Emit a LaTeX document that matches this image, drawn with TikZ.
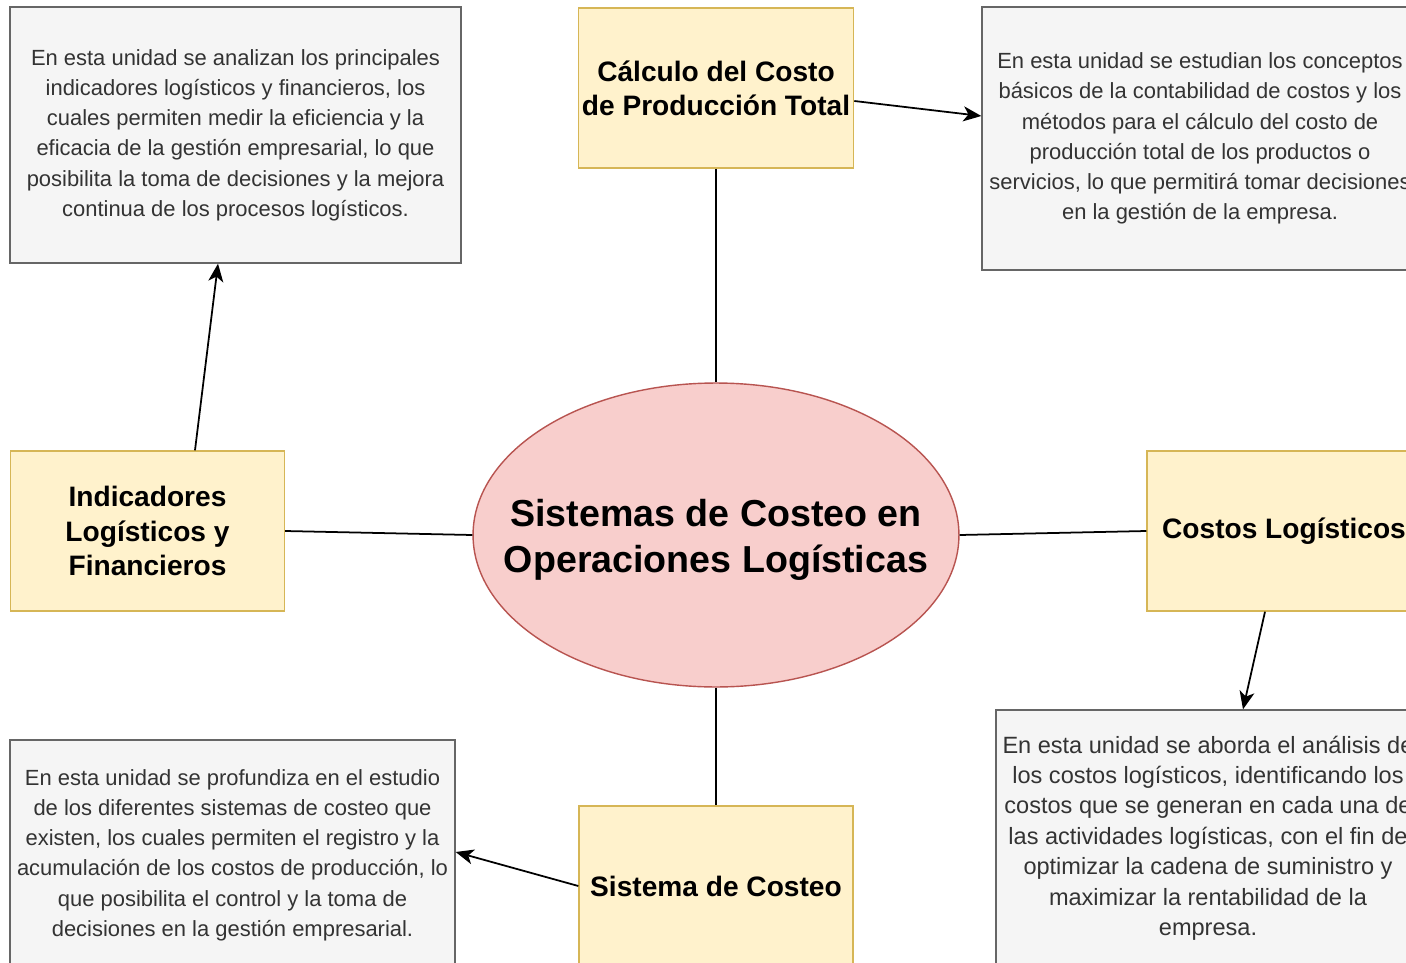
\documentclass[tikz,border=0pt]{standalone}
\usepackage{fontspec}
\setmainfont{Liberation Sans}
\usepackage{xcolor}
\usetikzlibrary{arrows.meta}
\usetikzlibrary{positioning,shapes.geometric}
\definecolor{topicfill}{HTML}{FFF2CC}
\definecolor{topicdraw}{HTML}{D6B656}
\definecolor{notefill}{HTML}{F5F5F5}
\definecolor{notedraw}{HTML}{666666}
\definecolor{notetext}{HTML}{333333}
\definecolor{mainfill}{HTML}{F8CECC}
\definecolor{maindraw}{HTML}{B85450}
\tikzset{
    topic/.style={
        draw=topicdraw,
        fill=topicfill,
        line width=0.8pt,
        minimum width=5.48cm,
        minimum height=3.2cm,
        inner sep=2pt,
        align=center,
        font=\fontsize{16}{19.4}\selectfont\bfseries
    },
    note/.style={
        draw=notedraw,
        fill=notefill,
        line width=0.8pt,
        inner sep=2pt,
        align=center,
        text=notetext,
        font=\fontsize{12.5}{17.2}\selectfont
    },
    link/.style={
        draw,
        line width=1pt
    },
    pointer/.style={
        draw,
        line width=1pt,
        -{Stealth[length=3.6mm, width=3mm, inset=1mm]}
    }
}

\begin{document}
\begin{tikzpicture}[x=0.02cm, y=-0.02cm]
  \useasboundingbox (0,0) rectangle (1406,963);
  \fill[white] (0,0) rectangle (1406,963);
  \clip (0,0) rectangle (1406,963);

  % Central topic
  \node[ellipse, draw=maindraw, fill=mainfill, line width=0.8pt,
        minimum width=9.72cm, minimum height=6.08cm, inner sep=0pt,
        label={[align=center, yshift=-0.1cm, font=\fontsize{21.4}{26.2}\selectfont\bfseries]center:Sistemas de Costeo en\\Operaciones Log\'isticas}]
        (main) at (716,535) {};

  % Unit topics
  \node[topic] (calc) at (716,88) {C\'alculo del Costo\\de Producci\'on Total};
  \node[topic] (indic) at (147.5,531) {Indicadores\\Log\'isticos y\\Financieros};
  \node[topic] (costos) at (1284,531) {Costos Log\'isticos};
  \node[topic] (sist) at (716,886) {Sistema de Costeo};

  % Unit descriptions
  \node[note, minimum width=9.02cm, minimum height=5.12cm] (descIndic) at (235.5,135) {
    En esta unidad se analizan los principales\\
    indicadores log\'isticos y financieros, los\\
    cuales permiten medir la eficiencia y la\\
    eficacia de la gesti\'on empresarial, lo que\\
    posibilita la toma de decisiones y la mejora\\
    continua de los procesos log\'isticos.};
  \node[note, minimum width=8.72cm, minimum height=5.26cm] (descCalc) at (1200,138.5) {
    En esta unidad se estudian los conceptos\\
    b\'asicos de la contabilidad de costos y los\\
    m\'etodos para el c\'alculo del costo de\\
    producci\'on total de los productos o\\
    servicios, lo que permitir\'a tomar decisiones\\
    en la gesti\'on de la empresa.};
  \node[note, minimum width=8.48cm, minimum height=5.12cm,
        font=\fontsize{13.4}{17.3}\selectfont] (descCostos) at (1208,838) {
    En esta unidad se aborda el an\'alisis de\\
    los costos log\'isticos, identificando los\\
    costos que se generan en cada una de\\
    las actividades log\'isticas, con el fin de\\
    optimizar la cadena de suministro y\\
    maximizar la rentabilidad de la\\
    empresa.};
  \node[note, minimum width=8.9cm, minimum height=4.6cm] (descSist) at (232.5,855) {
    En esta unidad se profundiza en el estudio\\
    de los diferentes sistemas de costeo que\\
    existen, los cuales permiten el registro y la\\
    acumulaci\'on de los costos de producci\'on, lo\\
    que posibilita el control y la toma de\\
    decisiones en la gesti\'on empresarial.};

  % Links to the central topic
  \draw[link] (calc) -- (main);
  \draw[link] (indic.east) -- (main.west);
  \draw[link] (main.east) -- (costos.west);
  \draw[link] (main) -- (sist);

  % Arrows to the descriptions
  \draw[pointer] ([yshift=-0.26cm]calc.east) -- ([yshift=0.45cm]descCalc.west);
  \draw[pointer] ([xshift=0.95cm]indic.north) -- ([xshift=-0.35cm]descIndic.south);
  \draw[pointer] ([xshift=-0.38cm]costos.south) -- ([xshift=0.7cm]descCostos.north);
  \draw[pointer] (sist.west) -- ([yshift=0.06cm]descSist.east);
\end{tikzpicture}
\end{document}
